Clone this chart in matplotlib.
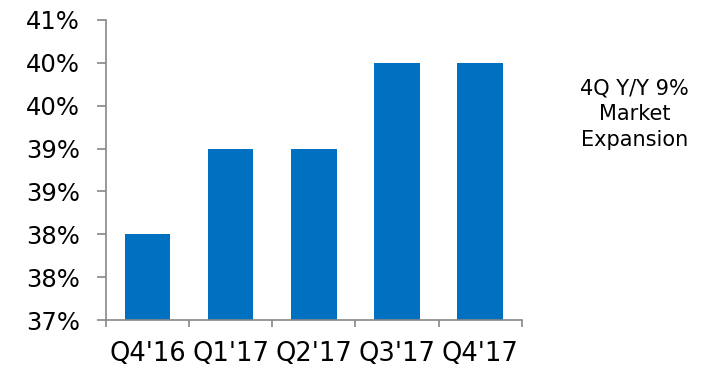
import matplotlib
matplotlib.use("Agg")
import matplotlib.pyplot as plt
import numpy as np

categories = ["Q4'16", "Q1'17", "Q2'17", "Q3'17", "Q4'17"]
values = [38.0, 39.0, 39.0, 40.0, 40.0]
ytick_values = [37.0, 37.5, 38.0, 38.5, 39.0, 39.5, 40.0, 40.5]
ytick_labels = ["37%", "38%", "38%", "39%", "39%", "40%", "40%", "41%"]
note = "4Q Y/Y 9%\nMarket\nExpansion"

plt.rcParams['font.family'] = ['DejaVu Sans']
fig = plt.figure(figsize=(7.1, 3.68), dpi=100)
ax = fig.add_axes([0.149, 0.1304, 0.586, 0.8153])

x = np.arange(len(categories))
ax.bar(x, values, width=0.55, color="#0070C0", zorder=2)
ax.set_ylim(37.0, 40.5)
ax.set_xlim(-0.5, len(categories) - 0.5)

ax.set_yticks(ytick_values)
ax.set_yticklabels(ytick_labels, fontsize=17.5)
ax.set_xticks(x)
ax.set_xticklabels(categories, fontsize=18.5)
ax.set_xticks(np.arange(len(categories) + 1) - 0.5, minor=True)

for s in ["top", "right"]:
    ax.spines[s].set_visible(False)
for s in ["left", "bottom"]:
    ax.spines[s].set_color("#888888")
    ax.spines[s].set_linewidth(1.2)

ax.tick_params(axis="y", which="major", length=6.5, width=1.2, color="#888888", pad=12, labelcolor="#000000")
ax.tick_params(axis="x", which="major", length=0, pad=15, labelcolor="#000000")
ax.tick_params(axis="x", which="minor", length=5, width=1.2, color="#888888")

fig.text(0.894, 0.69, note, ha="center", va="center", fontsize=15, linespacing=1.35)

fig.savefig("out.png", dpi=100)
